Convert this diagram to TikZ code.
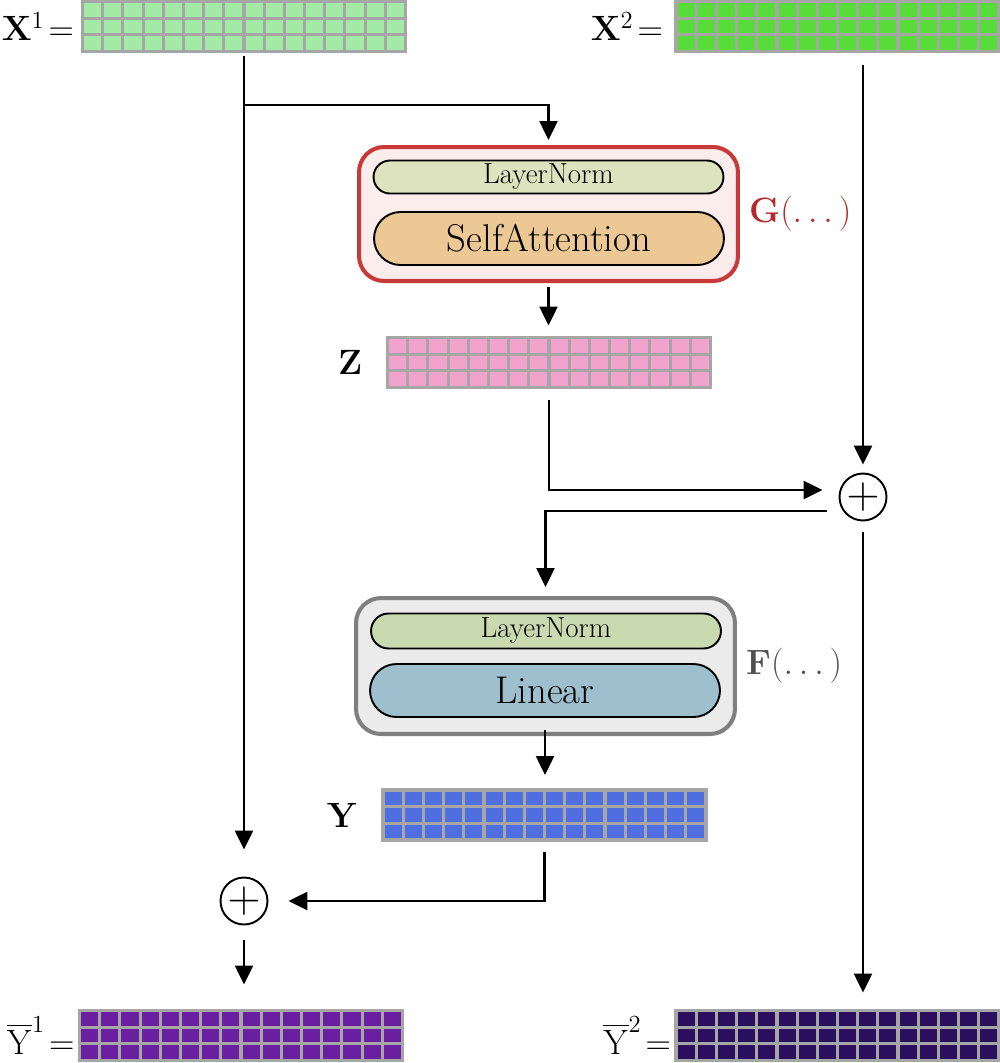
\RequirePackage{fix-cm}
\documentclass[tikz,border=0pt]{standalone}
\usepackage{amsmath}
\usepackage{amssymb}
\usetikzlibrary{arrows.meta,positioning,calc}

\definecolor{cellgray}{HTML}{A6A6A6}
\definecolor{tokx1}{HTML}{A2EAA6}
\definecolor{tokx2}{HTML}{57DC3A}
\definecolor{tokz}{HTML}{F2A3CB}
\definecolor{toky}{HTML}{4F6FE0}
\definecolor{tokya}{HTML}{6A1FA0}
\definecolor{tokyb}{HTML}{2A0F5E}
\definecolor{gred}{HTML}{C83A3A}
\definecolor{gtext}{HTML}{B42A2A}
\definecolor{gpink}{HTML}{FCEDED}
\definecolor{lnolive}{HTML}{DDE3BF}
\definecolor{satan}{HTML}{EBC894}
\definecolor{fgray}{HTML}{7F7F7F}
\definecolor{fback}{HTML}{EBEBEB}
\definecolor{lngreen}{HTML}{C9DAB0}
\definecolor{linblue}{HTML}{9EC0CE}
\definecolor{flabel}{HTML}{505050}

% 16 x 3 cells inside a token node
\newcommand{\tokengrid}[2]{%
	\foreach \i in {0,...,15}
		\foreach \j in {0,1,2}
			\draw[cell,fill=#2] ([shift={(\i*0.40375cm,-\j*0.3333cm)}]#1.north west) rectangle ++(0.40375cm,-0.3333cm);
}

\begin{document}
\begin{tikzpicture}[x=0.02cm,y=-0.02cm,line width=1.4pt,
      >={Triangle[length=0.38cm,width=0.36cm]},
      tokens/.style={minimum width=6.46cm,minimum height=1cm,inner sep=0pt,outer sep=0pt},
      cell/.style={draw=cellgray,line width=1.8pt},
      block/.style={rounded corners=0.5cm,line width=2.3pt,minimum width=7.58cm},
      pill/.style={draw=black,line width=1.1pt,minimum width=7.0cm,inner sep=0pt},
      adder/.style={circle,draw,line width=1.1pt,minimum size=0.94cm,inner sep=0pt,font=\fontsize{26}{30}\selectfont},
      lbl/.style={inner sep=0pt,font=\fontsize{20}{24}\selectfont}]
			\useasboundingbox (0,0) rectangle (1000,1063);
			% token rows
			\node[tokens] (x1) at (244,26.5) {};
			\node[tokens] (x2) at (837.5,26.5) {};
			\node[tokens] (z) at (549,362.5) {};
			\node[tokens] (ynode) at (544.5,815) {};
			\node[tokens] (y1bar) at (241,1035.5) {};
			\node[tokens] (y2bar) at (837.5,1035.5) {};
			\tokengrid{x1}{tokx1}
			\tokengrid{x2}{tokx2}
			\tokengrid{z}{tokz}
			\tokengrid{ynode}{toky}
			\tokengrid{y1bar}{tokya}
			\tokengrid{y2bar}{tokyb}
			\node[lbl,left=0.15cm of x1] (x1l) {$\mathbf{X}^1\!=$};
			\node[lbl,left=0.24cm of x2] (x2l) {$\mathbf{X}^2\!=$};
			\node[lbl,left=0.48cm of z] (zl) {$\mathbf{Z}$};
			\node[lbl,left=0.48cm of ynode] (yl) {$\mathbf{Y}$};
			\node[lbl,left=0.08cm of y1bar] (y1l) {$\overline{\mathrm{Y}}^1\!=$};
			\node[lbl,left=0.08cm of y2bar] (y2l) {$\overline{\mathrm{Y}}^2\!=$};
			% G block
			\node[block,draw=gred,fill=gpink,minimum height=2.68cm] (g) at (548.5,214) {};
			\node[pill,fill=lnolive,rounded corners=0.33cm,minimum height=0.66cm,font=\fontsize{16.5}{19}\selectfont] (ln1) at (548.5,177) {LayerNorm};
			\node[pill,fill=satan,rounded corners=0.53cm,minimum height=1.06cm,font=\fontsize{22}{26}\selectfont] (sa) at (549,238.5) {SelfAttention};
			\node[lbl,text=gtext,right=0.16cm of g] (gl) {$\mathbf{G}(\dots)$};
			% F block
			\node[block,draw=fgray,fill=fback,minimum height=2.72cm] (f) at (545.5,666) {};
			\node[pill,fill=lngreen,rounded corners=0.35cm,minimum height=0.7cm,font=\fontsize{16.5}{19}\selectfont] (ln2) at (546,631) {LayerNorm};
			\node[pill,fill=linblue,rounded corners=0.53cm,minimum height=1.06cm,font=\fontsize{22}{26}\selectfont] (lin) at (545,690.5) {Linear};
			\node[lbl,text=flabel,right=0.16cm of f] (fl) {$\mathbf{F}(\dots)$};
			% sums
			\node[adder] (plus1) at (863,497) {$+$};
			\node[adder] (plus2) at (244,901) {$+$};
			\coordinate (fork) at (244,105);
			% connectors
			\draw[->,shorten <=0.08cm,shorten >=0.54cm] (x1.south) -- (plus2);
			\draw[->,shorten >=0.1cm] (fork) -| (g.north);
			\draw[->,shorten <=0.08cm,shorten >=0.24cm] (g.south) -- (g.south |- z.north);
			\draw[->,shorten <=0.24cm,shorten >=0.32cm] (z.south) |- ($(plus1.west)+(0,-7)$);
			\draw[->,shorten <=0.27cm,shorten >=0.16cm] (plus1 |- x2.south) -- (plus1);
			\draw[->,shorten <=0.24cm,shorten >=0.18cm] ($(plus1.west)+(0,14)$) -| (f.north);
			\draw[->,shorten <=0.22cm,shorten >=0.36cm] (plus1) -- (plus1 |- y2bar.north);
			\draw[->,shorten <=0.24cm,shorten >=0.3cm] (lin.south) -- (lin.south |- ynode.north);
			\draw[->,shorten <=0.24cm,shorten >=0.4cm] (ynode.south) |- (plus2);
			\draw[->,shorten <=0.3cm,shorten >=0.52cm] (plus2) -- (plus2 |- y1bar.north);
		\end{tikzpicture}
\end{document}
